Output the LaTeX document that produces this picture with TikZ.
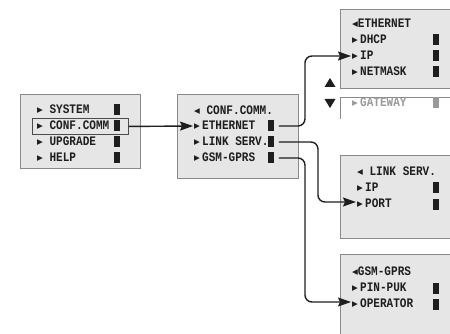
\documentclass[tikz,border=0pt]{standalone}
\usepackage{fontspec}
\newfontfamily\lcd[FakeStretch=0.85]{Liberation Mono}
\newfontfamily\dvs{DejaVu Sans}
\usetikzlibrary{arrows.meta}
\definecolor{boxfill}{HTML}{E6E6E6}
\definecolor{boxline}{HTML}{8A8A8A}
\definecolor{ink}{HTML}{1E1E1E}
\definecolor{faint}{HTML}{9A9A9A}
\newcommand{\rtri}{\raisebox{0.9pt}{\dvs\fontsize{7.5}{7.5}\selectfont ▶}}
\newcommand{\ltri}{\raisebox{0.9pt}{\dvs\fontsize{7.5}{7.5}\selectfont ◀}}
\tikzset{
  panel/.style={draw=boxline, fill=boxfill, line width=0.9pt, anchor=north west, inner sep=0pt},
  row/.style={anchor=west, inner sep=0pt, text height=7.4pt, text depth=0pt,
    font=\lcd\bfseries\fontsize{13}{13}\selectfont, text=ink},
  fadedrow/.style={row, text=faint},
  bar/.style={fill=ink, minimum width=5.5pt, minimum height=11pt, inner sep=0pt, draw=none},
  fadedbar/.style={bar, fill=faint},
  hilite/.style={draw=ink!80, line width=0.9pt, inner sep=0pt, anchor=north west},
  link/.style={draw=ink, line width=1.4pt, rounded corners=7pt,
    -{Stealth[length=13pt,width=9pt,inset=2pt]}},
  updown/.style={fill=ink, draw=none},
}
\begin{document}
\begin{tikzpicture}[x=1pt,y=-1pt]
\useasboundingbox (0,0) rectangle (450,334);
% panels
\node[panel, minimum width=120pt, minimum height=74pt] (mainmenu) at (20,94) {};
\node[panel, minimum width=121pt, minimum height=84pt] (confmenu) at (177,94) {};
\node[panel, minimum width=115pt, minimum height=79pt] (ethmenu) at (340,9) {};
\node[panel, minimum width=115pt, minimum height=83pt] (linkmenu) at (340,155) {};
\node[panel, minimum width=115pt, minimum height=90pt] (gsmmenu) at (340,254) {};
% gateway (scrolled-off item)
\draw[draw=boxline, line width=0.9pt] (340,119) -- (340,97) -- (455,97);
% main menu
\node[row] (mSys) at (37,110) {\rtri\ SYSTEM};
\node[row] (mConf) at (37,126) {\rtri\ CONF.COMM};
\node[row] (mUpg) at (37,142) {\rtri\ UPGRADE};
\node[row] (mHelp) at (37,158) {\rtri\ HELP};
\node[bar] (bSys) at (117,110) {};
\node[bar] (bConf) at (117,126) {};
\node[bar] (bUpg) at (117,142) {};
\node[bar] (bHelp) at (117,158) {};
\node[hilite, minimum width=96pt, minimum height=16pt] (sel) at (32,118) {};
% conf.comm menu
\node[row] (cTitle) at (194,111) {\ltri\ CONF.COMM.};
\node[row] (cEth) at (194,126) {\rtri\,ETHERNET};
\node[row] (cLink) at (194,142) {\rtri\,LINK SERV.};
\node[row] (cGsm) at (194,158) {\rtri\,GSM-GPRS};
\node[bar] (bEth) at (271,126) {};
\node[bar] (bLink) at (271,142) {};
\node[bar] (bGsm) at (271,158) {};
% ethernet menu
\node[row] (eTitle) at (352,24) {\ltri ETHERNET};
\node[row] (eDhcp) at (352,40) {\rtri\,DHCP};
\node[row] (eIp) at (352,56) {\rtri\,IP};
\node[row] (eMask) at (352,72) {\rtri\,NETMASK};
\node[fadedrow] (eGate) at (352,103) {\rtri\,GATEWAY};
\node[bar] (bDhcp) at (436,40) {};
\node[bar] (bIp) at (436,56) {};
\node[bar] (bMask) at (436,72) {};
\node[fadedbar] (bGate) at (436,103) {};
% link serv menu
\node[row] (lTitle) at (357,172) {\ltri\ LINK SERV.};
\node[row] (lIp) at (357,188) {\rtri\,IP};
\node[row] (lPort) at (357,204) {\rtri\,PORT};
\node[bar] (bLIp) at (436,188) {};
\node[bar] (bPort) at (436,204) {};
% gsm menu
\node[row] (gTitle) at (352,272) {\ltri GSM-GPRS};
\node[row] (gPin) at (352,288) {\rtri\,PIN-PUK};
\node[row] (gOp) at (352,304) {\rtri\,OPERATOR};
\node[bar] (bPin) at (436,288) {};
\node[bar] (bOp) at (436,304) {};
% scroll arrows
\path[updown] (324.5,87) -- (335.5,87) -- (330,78) -- cycle;
\path[updown] (324.5,99) -- (335.5,99) -- (330,108) -- cycle;
% connectors
\draw[link, rounded corners=0pt] (sel.east) -- ([xshift=-1pt]cEth.west);
\draw[link] ([xshift=5pt]bEth.east) -- ++(26,0) |- ([xshift=-1pt]eIp.west);
\draw[link] ([xshift=5pt]bLink.east) -- ++(39,0) |- ([xshift=-1pt,yshift=2pt]lPort.west);
\draw[link] ([xshift=5pt]bGsm.east) -- ++(26,0) |- ([xshift=-1pt,yshift=2pt]gOp.west);
\end{tikzpicture}
\end{document}
